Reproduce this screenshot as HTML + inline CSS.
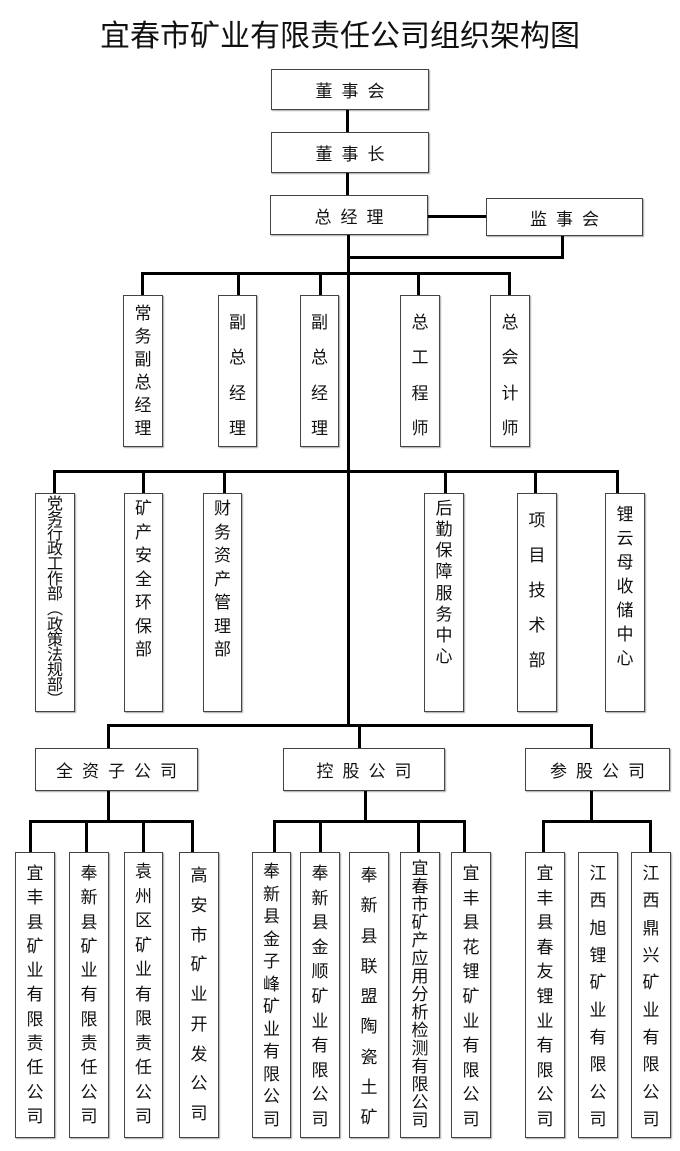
<!DOCTYPE html>
<html><head><meta charset="utf-8"><style>
body{margin:0;background:#fff;width:680px;height:1151px;position:relative;overflow:hidden;font-family:"Liberation Sans","Noto Sans CJK SC",sans-serif;color:#111}
.t{position:absolute;left:0;width:680px;top:15px;text-align:center;font-size:30px;font-family:"Liberation Sans","Noto Sans CJK SC",sans-serif;line-height:44px}
.b{position:absolute;border:1.5px solid #444;box-sizing:border-box;background:#fff;box-shadow:1px 1px 1px #aaa}
.h{display:flex;align-items:center;justify-content:center;font-size:17px;letter-spacing:9px;text-indent:9px}
.v{display:flex;flex-direction:column;align-items:center;justify-content:space-between;font-size:17px;line-height:18px}
.l{position:absolute;background:#000}
</style></head><body>
<div class="t">宜春市矿业有限责任公司组织架构图</div>

<div class="b h" style="left:271px;top:69px;width:158px;height:41px">董事会</div>
<div class="b h" style="left:271px;top:132px;width:158px;height:41px">董事长</div>
<div class="b h" style="left:270px;top:195px;width:158px;height:40px">总经理</div>
<div class="b h" style="left:486px;top:198px;width:157px;height:38px">监事会</div>

<div class="l" style="left:346px;top:110px;width:3px;height:22px"></div>
<div class="l" style="left:346px;top:173px;width:3px;height:22px"></div>
<div class="l" style="left:428px;top:215px;width:58px;height:3px"></div>
<div class="l" style="left:561px;top:236px;width:3px;height:22px"></div>
<div class="l" style="left:347px;top:256px;width:217px;height:3px"></div>
<div class="l" style="left:347px;top:235px;width:3px;height:492px"></div>

<!-- row1 -->
<div class="l" style="left:141px;top:272px;width:370px;height:3px"></div>
<div class="l" style="left:141px;top:272px;width:3px;height:23px"></div>
<div class="l" style="left:237px;top:272px;width:3px;height:23px"></div>
<div class="l" style="left:319px;top:272px;width:3px;height:23px"></div>
<div class="l" style="left:417px;top:272px;width:3px;height:23px"></div>
<div class="l" style="left:508px;top:272px;width:3px;height:23px"></div>
<div class="b v" style="left:123px;top:295px;width:40px;height:152px;padding:9px 0 8px"><span>常</span><span>务</span><span>副</span><span>总</span><span>经</span><span>理</span></div>
<div class="b v" style="left:218px;top:295px;width:39px;height:152px;padding:18px 0 8px"><span>副</span><span>总</span><span>经</span><span>理</span></div>
<div class="b v" style="left:300px;top:295px;width:39px;height:152px;padding:18px 0 8px"><span>副</span><span>总</span><span>经</span><span>理</span></div>
<div class="b v" style="left:400px;top:295px;width:40px;height:152px;padding:18px 0 8px"><span>总</span><span>工</span><span>程</span><span>师</span></div>
<div class="b v" style="left:490px;top:295px;width:40px;height:152px;padding:18px 0 8px"><span>总</span><span>会</span><span>计</span><span>师</span></div>

<!-- row2 -->
<div class="l" style="left:53px;top:470px;width:566px;height:3px"></div>
<div class="l" style="left:53px;top:470px;width:3px;height:23px"></div>
<div class="l" style="left:142px;top:470px;width:3px;height:23px"></div>
<div class="l" style="left:223px;top:470px;width:3px;height:23px"></div>
<div class="l" style="left:444px;top:470px;width:3px;height:23px"></div>
<div class="l" style="left:534px;top:470px;width:3px;height:23px"></div>
<div class="l" style="left:616px;top:470px;width:3px;height:23px"></div>
<div class="b v" style="left:35px;top:493px;width:40px;height:219px;padding:3px 0 3px;line-height:15px;font-size:16px"><span>党</span><span>务</span><span>行</span><span>政</span><span>工</span><span>作</span><span>部</span><span>︵</span><span>政</span><span>策</span><span>法</span><span>规</span><span>部</span><span>︶</span></div>
<div class="b v" style="left:124px;top:493px;width:39px;height:219px;padding:6px 0 52px"><span>矿</span><span>产</span><span>安</span><span>全</span><span>环</span><span>保</span><span>部</span></div>
<div class="b v" style="left:203px;top:493px;width:39px;height:219px;padding:6px 0 52px"><span>财</span><span>务</span><span>资</span><span>产</span><span>管</span><span>理</span><span>部</span></div>
<div class="b v" style="left:424px;top:493px;width:40px;height:219px;padding:6px 0 45px"><span>后</span><span>勤</span><span>保</span><span>障</span><span>服</span><span>务</span><span>中</span><span>心</span></div>
<div class="b v" style="left:517px;top:493px;width:40px;height:219px;padding:18px 0 41px"><span>项</span><span>目</span><span>技</span><span>术</span><span>部</span></div>
<div class="b v" style="left:605px;top:493px;width:40px;height:219px;padding:12px 0 43px"><span>锂</span><span>云</span><span>母</span><span>收</span><span>储</span><span>中</span><span>心</span></div>

<!-- row3 -->
<div class="l" style="left:107px;top:724px;width:486px;height:3px"></div>
<div class="l" style="left:107px;top:724px;width:3px;height:24px"></div>
<div class="l" style="left:358px;top:724px;width:3px;height:24px"></div>
<div class="l" style="left:590px;top:724px;width:3px;height:24px"></div>
<div class="b h" style="left:35px;top:748px;width:163px;height:43px">全资子公司</div>
<div class="b h" style="left:283px;top:748px;width:162px;height:43px">控股公司</div>
<div class="b h" style="left:525px;top:748px;width:145px;height:43px">参股公司</div>

<div class="l" style="left:107px;top:791px;width:3px;height:30px"></div>
<div class="l" style="left:364px;top:791px;width:3px;height:30px"></div>
<div class="l" style="left:590px;top:791px;width:3px;height:30px"></div>
<div class="l" style="left:29px;top:820px;width:165px;height:3px"></div>
<div class="l" style="left:273px;top:820px;width:193px;height:3px"></div>
<div class="l" style="left:542px;top:820px;width:110px;height:3px"></div>
<div class="l" style="left:29px;top:820px;width:3px;height:32px"></div>
<div class="l" style="left:85px;top:820px;width:3px;height:32px"></div>
<div class="l" style="left:142px;top:820px;width:3px;height:32px"></div>
<div class="l" style="left:191px;top:820px;width:3px;height:32px"></div>
<div class="l" style="left:273px;top:820px;width:3px;height:32px"></div>
<div class="l" style="left:319px;top:820px;width:3px;height:32px"></div>
<div class="l" style="left:417px;top:820px;width:3px;height:32px"></div>
<div class="l" style="left:463px;top:820px;width:3px;height:32px"></div>
<div class="l" style="left:542px;top:820px;width:3px;height:32px"></div>
<div class="l" style="left:649px;top:820px;width:3px;height:32px"></div>

<div class="b v" style="left:15px;top:852px;width:40px;height:286px;padding:12px 0 11px"><span>宜</span><span>丰</span><span>县</span><span>矿</span><span>业</span><span>有</span><span>限</span><span>责</span><span>任</span><span>公</span><span>司</span></div>
<div class="b v" style="left:69px;top:852px;width:40px;height:286px;padding:12px 0 11px"><span>奉</span><span>新</span><span>县</span><span>矿</span><span>业</span><span>有</span><span>限</span><span>责</span><span>任</span><span>公</span><span>司</span></div>
<div class="b v" style="left:124px;top:852px;width:39px;height:286px;padding:10px 0 11px"><span>袁</span><span>州</span><span>区</span><span>矿</span><span>业</span><span>有</span><span>限</span><span>责</span><span>任</span><span>公</span><span>司</span></div>
<div class="b v" style="left:179px;top:852px;width:40px;height:286px;padding:14px 0 14px"><span>高</span><span>安</span><span>市</span><span>矿</span><span>业</span><span>开</span><span>发</span><span>公</span><span>司</span></div>
<div class="b v" style="left:252px;top:852px;width:39px;height:286px;padding:10px 0 8px"><span>奉</span><span>新</span><span>县</span><span>金</span><span>子</span><span>峰</span><span>矿</span><span>业</span><span>有</span><span>限</span><span>公</span><span>司</span></div>
<div class="b v" style="left:300px;top:852px;width:40px;height:286px;padding:12px 0 8px"><span>奉</span><span>新</span><span>县</span><span>金</span><span>顺</span><span>矿</span><span>业</span><span>有</span><span>限</span><span>公</span><span>司</span></div>
<div class="b v" style="left:349px;top:852px;width:40px;height:286px;padding:14px 0 10px"><span>奉</span><span>新</span><span>县</span><span>联</span><span>盟</span><span>陶</span><span>瓷</span><span>土</span><span>矿</span></div>
<div class="b v" style="left:400px;top:852px;width:40px;height:286px;padding:7px 0 8px;line-height:17px"><span>宜</span><span>春</span><span>市</span><span>矿</span><span>产</span><span>应</span><span>用</span><span>分</span><span>析</span><span>检</span><span>测</span><span>有</span><span>限</span><span>公</span><span>司</span></div>
<div class="b v" style="left:451px;top:852px;width:40px;height:286px;padding:12px 0 8px"><span>宜</span><span>丰</span><span>县</span><span>花</span><span>锂</span><span>矿</span><span>业</span><span>有</span><span>限</span><span>公</span><span>司</span></div>
<div class="b v" style="left:525px;top:852px;width:40px;height:286px;padding:12px 0 8px"><span>宜</span><span>丰</span><span>县</span><span>春</span><span>友</span><span>锂</span><span>业</span><span>有</span><span>限</span><span>公</span><span>司</span></div>
<div class="b v" style="left:578px;top:852px;width:40px;height:286px;padding:12px 0 8px"><span>江</span><span>西</span><span>旭</span><span>锂</span><span>矿</span><span>业</span><span>有</span><span>限</span><span>公</span><span>司</span></div>
<div class="b v" style="left:631px;top:852px;width:40px;height:286px;padding:12px 0 8px"><span>江</span><span>西</span><span>鼎</span><span>兴</span><span>矿</span><span>业</span><span>有</span><span>限</span><span>公</span><span>司</span></div>
</body></html>
